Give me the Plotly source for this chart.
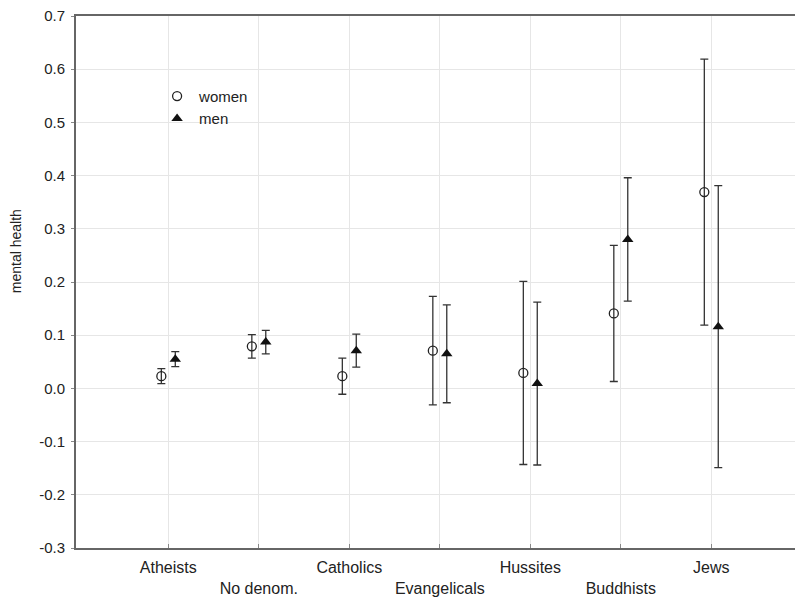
import plotly.graph_objects as go

categories = ["Atheists", "No denom.", "Catholics", "Evangelicals", "Hussites", "Buddhists", "Jews"]
women_mean = [0.023, 0.079, 0.023, 0.071, 0.029, 0.141, 0.369]
women_ci = [0.014, 0.022, 0.034, 0.102, 0.172, 0.128, 0.250]
men_mean = [0.055, 0.087, 0.071, 0.065, 0.009, 0.280, 0.116]
men_ci = [0.014, 0.022, 0.031, 0.092, 0.153, 0.116, 0.265]
tick_labels = ["Atheists", "<br>No denom.", "Catholics", "<br>Evangelicals", "Hussites", "<br>Buddhists", "Jews"]
y_ticks = [-0.3, -0.2, -0.1, 0.0, 0.1, 0.2, 0.3, 0.4, 0.5, 0.6, 0.7]

offset = 0.077
idx = list(range(len(categories)))
x_w = [i - offset for i in idx]
x_m = [i + offset for i in idx]

FONT = "Liberation Sans, Arial, sans-serif"

fig = go.Figure()
fig.add_trace(go.Scatter(
    x=x_w, y=women_mean, mode="markers", name="women",
    marker=dict(symbol="circle-open", size=9, color="#222", line=dict(width=1.3, color="#222")),
    error_y=dict(type="data", array=women_ci, visible=True, color="#333", thickness=1.3, width=4),
))
fig.add_trace(go.Scatter(
    x=x_m, y=men_mean, mode="markers", name="men",
    marker=dict(symbol="triangle-up", size=10, color="#111"),
    error_y=dict(type="data", array=men_ci, visible=True, color="#333", thickness=1.3, width=4),
))

fig.update_layout(
    width=795, height=601,
    margin=dict(l=76, r=0, t=16, b=53, autoexpand=False),
    paper_bgcolor="white", plot_bgcolor="white",
    font=dict(family=FONT, size=15, color="#222"),
    showlegend=True,
    legend=dict(x=0.11, y=0.88, xanchor="left", yanchor="top",
                bgcolor="rgba(0,0,0,0)", font=dict(size=15, color="#222"),
                tracegroupgap=0, itemwidth=34),
    xaxis=dict(
        range=[-1.02, 6.925], tickmode="array", tickvals=idx, ticktext=tick_labels,
        showgrid=True, gridcolor="#e6e6e6", gridwidth=1, automargin=False,
        showline=True, linecolor="#666", linewidth=2, mirror=True,
        ticks="inside", ticklen=4, tickcolor="#888", zeroline=False,
        tickfont=dict(size=16, color="#222"), ticklabelstandoff=4,
    ),
    yaxis=dict(
        range=[-0.3, 0.7], tickmode="array", tickvals=y_ticks,
        ticktext=[f"{v:.1f}" for v in y_ticks], automargin=False,
        showgrid=True, gridcolor="#e6e6e6", gridwidth=1,
        showline=True, linecolor="#666", linewidth=2, mirror=False,
        ticks="outside", ticklen=3, tickcolor="#888", zeroline=False,
        tickfont=dict(size=15, color="#222"), ticklabelstandoff=3,
        ticklabeloverflow="allow",
    ),
    annotations=[dict(
        text="mental health", textangle=-90, xref="paper", yref="paper",
        x=-0.0834, y=0.558, xanchor="center", yanchor="middle", showarrow=False,
        font=dict(family=FONT, size=14, color="#222"),
    )],
)

# remove the browser's default 8px body margin so the figure fills the window
fig.write_html(
    "out.html",
    config={"displayModeBar": False},
    post_script="document.body.style.margin='0';document.body.style.overflow='hidden';",
)
